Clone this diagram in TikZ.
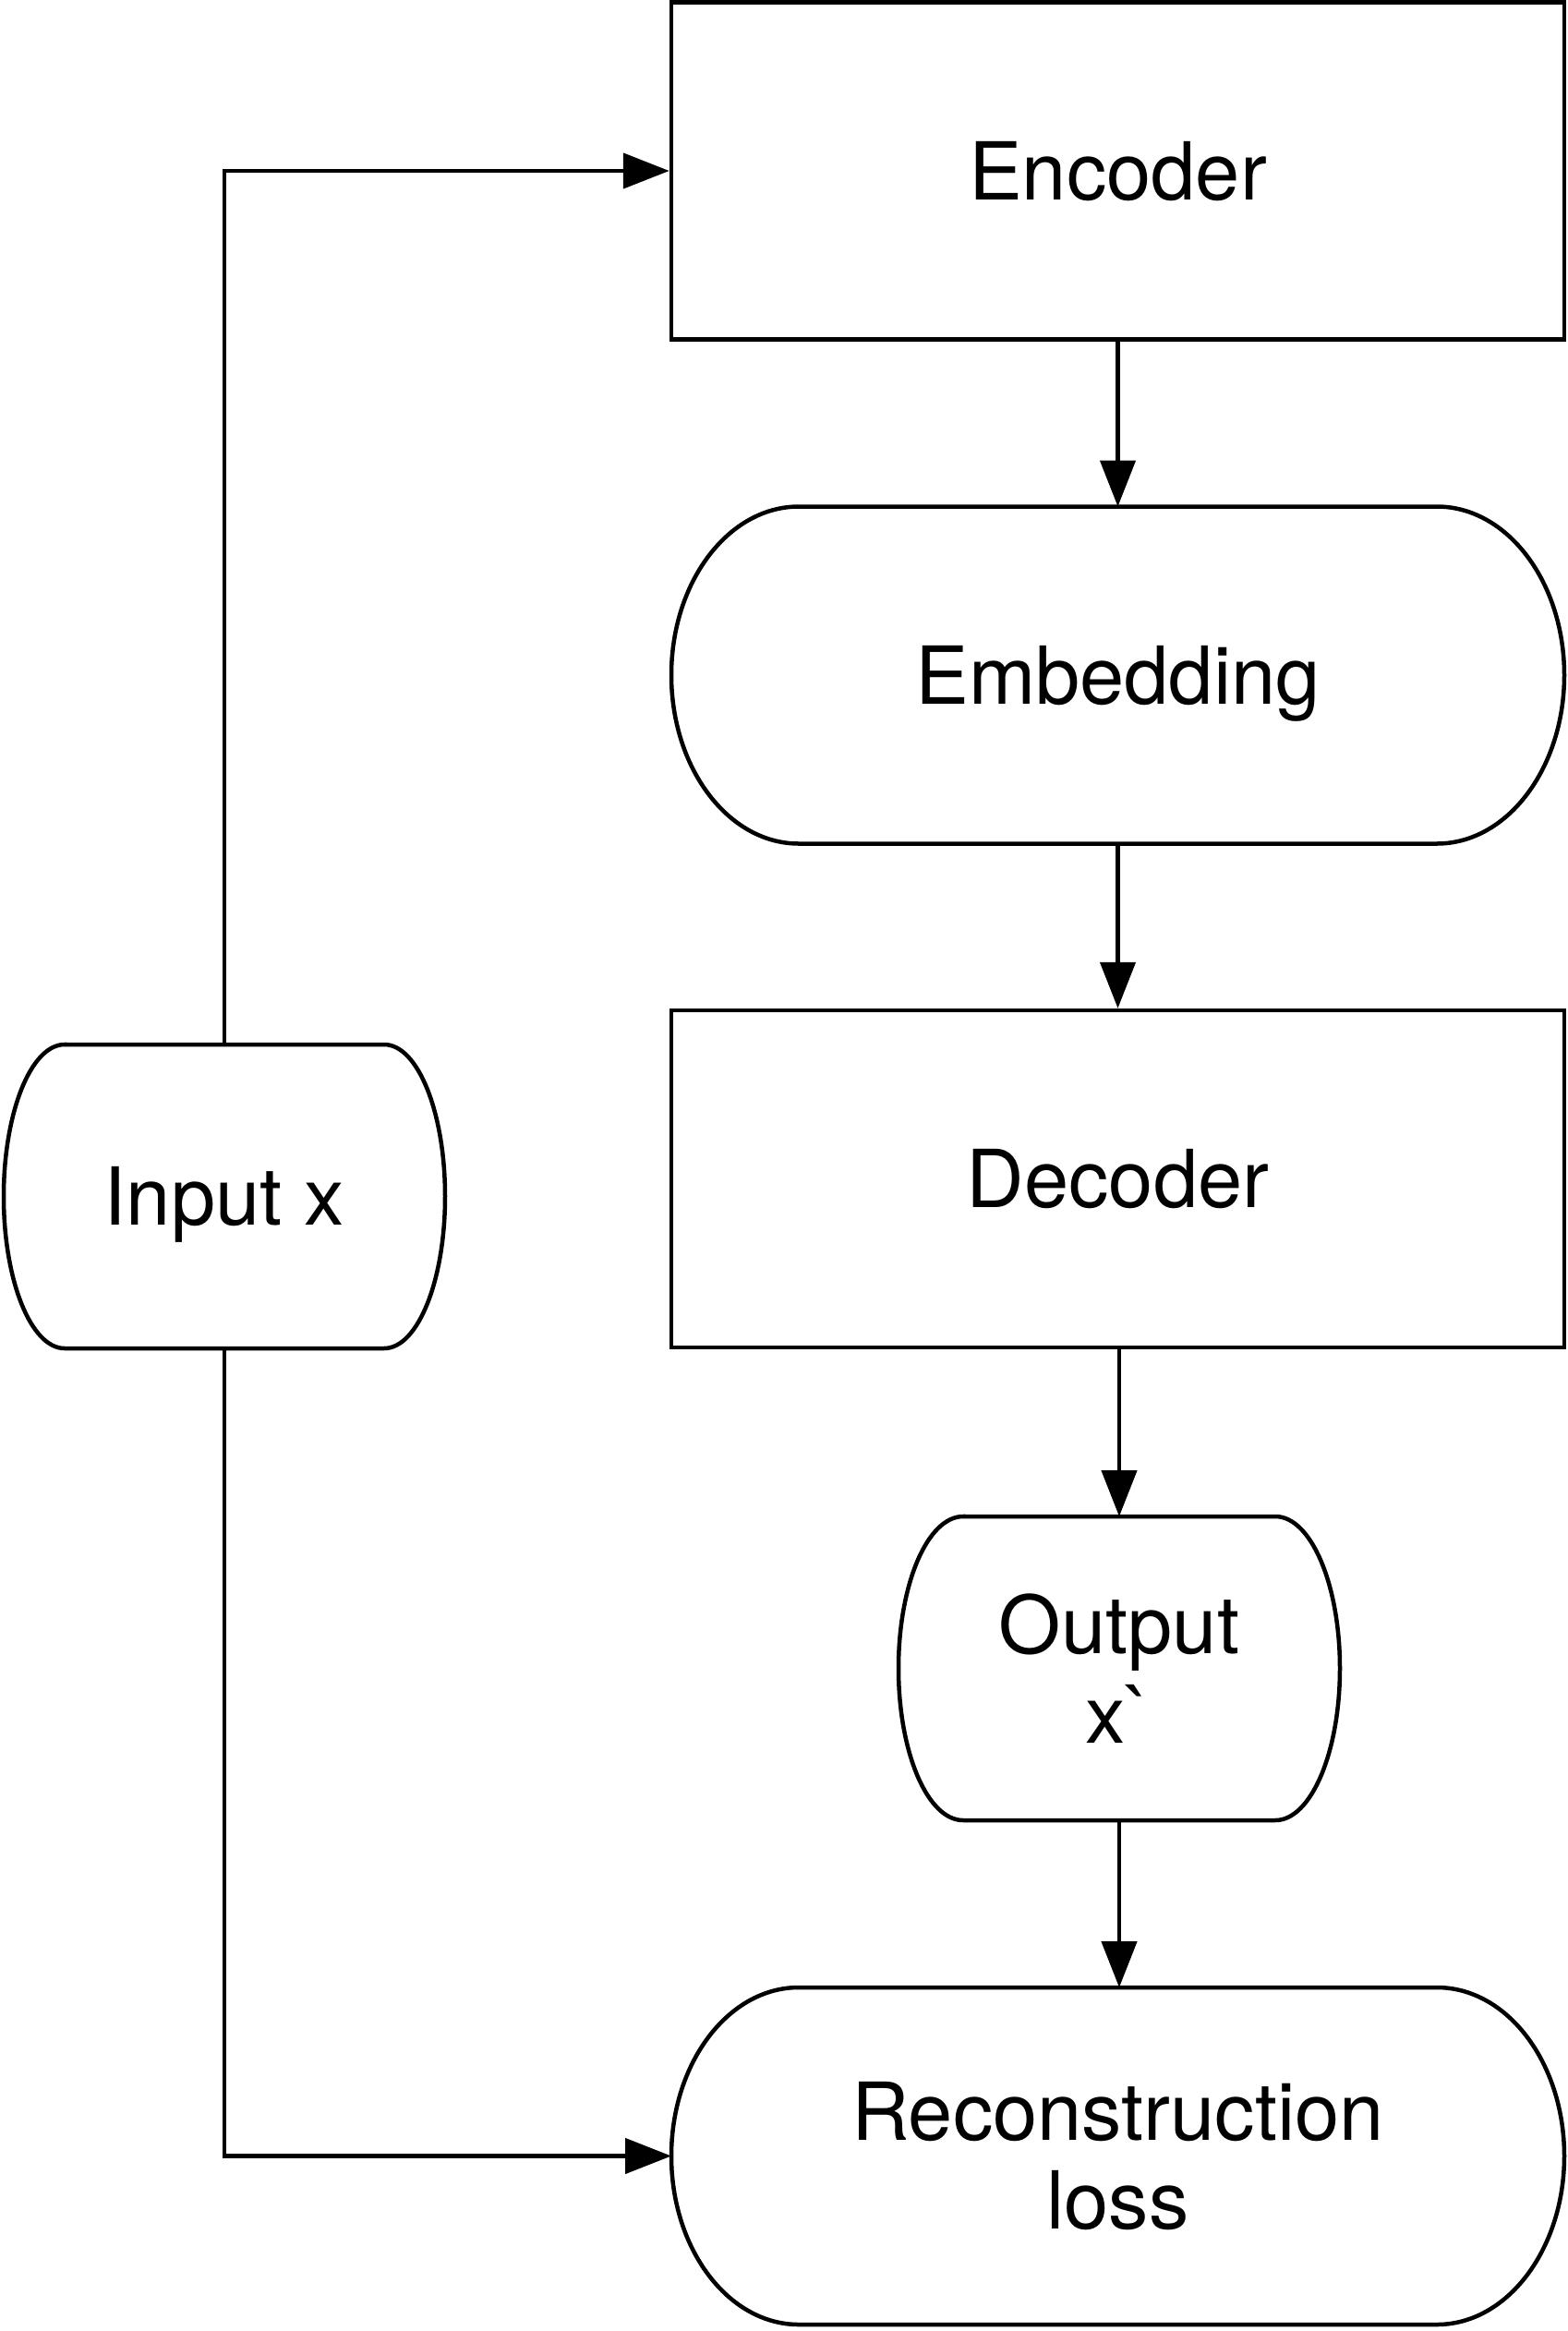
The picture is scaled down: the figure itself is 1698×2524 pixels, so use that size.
\documentclass[tikz,border=0pt]{standalone}
\usepackage{fontspec}
\setmainfont{TeX Gyre Heros}[Ligatures=TeXOff]
\usetikzlibrary{arrows.meta,calc}
\begin{document}
\begin{tikzpicture}[x=0.3pt,y=0.3pt,
  every node/.style={font=\fontsize{26}{29}\selectfont, align=center, inner sep=0pt},
  oneline/.style={text height=18.7pt, text depth=0pt},
  boxnode/.style={draw, line width=1.35pt, rectangle, minimum width=290.1pt, minimum height=109.5pt},
  wideterm/.style={rectangle, outer sep=0pt, minimum width=290.1pt, minimum height=109.5pt},
  smallterm/.style={rectangle, outer sep=0pt, minimum width=143.4pt, minimum height=98.7pt},
  outline/.style={draw, line width=1.35pt},
  arr/.style={line width=1.35pt, -{Triangle[length=15pt,width=11.4pt]}}
]
\useasboundingbox (0,0) rectangle (1698,-2524);
\fill[white] (0,0) rectangle (1698,-2524);

\node[boxnode, oneline] (enc) at (1210.5,-185) {Encoder};
\node[wideterm, oneline] (emb) at (1210.5,-731) {Embedding};
\node[boxnode, oneline] (dec) at (1210.5,-1276.5) {Decoder};
\node[smallterm] (out) at (1212,-1806.5) {Output\\x`};
\node[wideterm] (rec) at (1210.5,-2334.5) {Reconstruction\\loss};
\node[smallterm, oneline] (inp) at (243,-1295.5) {Input x};

% stadium outlines
\draw[outline] ([xshift=41.4pt]emb.north west) -- ([xshift=-41.4pt]emb.north east)
  arc[start angle=90,end angle=-90,x radius=41.4pt,y radius=54.75pt]
  -- ([xshift=41.4pt]emb.south west)
  arc[start angle=270,end angle=90,x radius=41.4pt,y radius=54.75pt] -- cycle;
\draw[outline] ([xshift=41.4pt]rec.north west) -- ([xshift=-41.4pt]rec.north east)
  arc[start angle=90,end angle=-90,x radius=41.4pt,y radius=54.75pt]
  -- ([xshift=41.4pt]rec.south west)
  arc[start angle=270,end angle=90,x radius=41.4pt,y radius=54.75pt] -- cycle;
\draw[outline] ([xshift=21pt]out.north west) -- ([xshift=-21pt]out.north east)
  arc[start angle=90,end angle=-90,x radius=21pt,y radius=49.35pt]
  -- ([xshift=21pt]out.south west)
  arc[start angle=270,end angle=90,x radius=21pt,y radius=49.35pt] -- cycle;
\draw[outline] ([xshift=19.8pt]inp.north west) -- ([xshift=-19.8pt]inp.north east)
  arc[start angle=90,end angle=-90,x radius=19.8pt,y radius=49.35pt]
  -- ([xshift=19.8pt]inp.south west)
  arc[start angle=270,end angle=90,x radius=19.8pt,y radius=49.35pt] -- cycle;

% connectors
\draw[arr] (enc.south) -- (emb.north);
\draw[arr] (emb.south) -- (dec.north);
\draw[arr] (dec.south -| out.north) -- (out.north);
\draw[arr] (out.south) -- (rec.north -| out.south);
\draw[arr] (inp.north) |- (enc.west);
\draw[arr] (inp.south) |- (rec.west);
\end{tikzpicture}
\end{document}
